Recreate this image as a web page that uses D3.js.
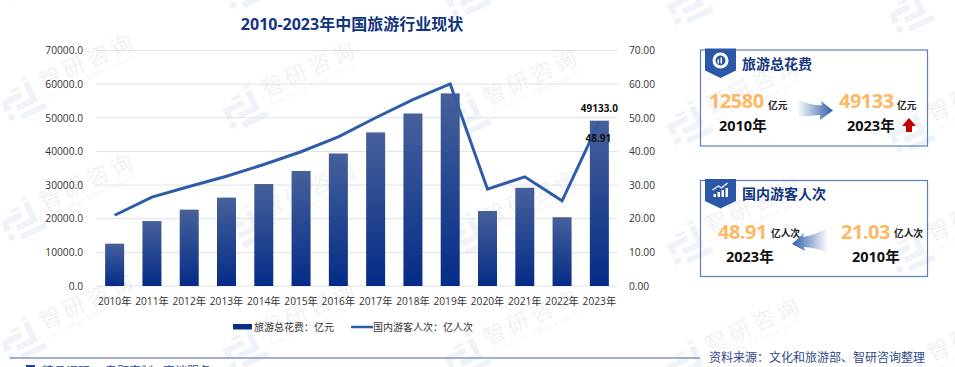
<!DOCTYPE html>
<html>
<head>
<meta charset="utf-8">
<script src="https://cdn.jsdelivr.net/npm/d3@7"></script>
<style>
  html, body { margin: 0; padding: 0; background: #fff; overflow: hidden; }
  text { font-family: "Open Sans", "Noto Sans CJK SC", sans-serif; }
</style>
</head>
<body>
<svg id="chart"></svg>
<script>
const years = ["2010年","2011年","2012年","2013年","2014年","2015年","2016年","2017年","2018年","2019年","2020年","2021年","2022年","2023年"];
const spend = [12580, 19306, 22706, 26276, 30312, 34195, 39390, 45661, 51278, 57251, 22286, 29191, 20444, 49133];
const visits = [21.03, 26.41, 29.57, 32.62, 36.11, 39.90, 44.35, 50.01, 55.39, 60.06, 28.79, 32.46, 25.30, 48.91];
const leftTicks = [0, 10000, 20000, 30000, 40000, 50000, 60000, 70000];
const rightTicks = [0, 10, 20, 30, 40, 50, 60, 70];
const footerWords = [["精品调研", 42], ["专题定制", 105], ["高端服务", 163]];

const width = 955;
const height = 367;
const margin = { top: 50.5, right: 337, bottom: 81, left: 96 };
const navy = "#0b2f86";
const lineBlue = "#2f5ca8";

const svg = d3.select("#chart")
  .attr("width", width)
  .attr("height", height)
  .style("display", "block");

const defs = svg.append("defs");

const barGrad = defs.append("linearGradient")
  .attr("id", "barGrad").attr("x1", 0).attr("y1", 0).attr("x2", 0).attr("y2", 1);
barGrad.append("stop").attr("offset", "0%").attr("stop-color", "#46609a");
barGrad.append("stop").attr("offset", "100%").attr("stop-color", "#042c87");

const arrowRight = defs.append("linearGradient")
  .attr("id", "arrowRight").attr("x1", 0).attr("y1", 0).attr("x2", 1).attr("y2", 0);
arrowRight.append("stop").attr("offset", "0%").attr("stop-color", "#2f5ca8").attr("stop-opacity", 0);
arrowRight.append("stop").attr("offset", "100%").attr("stop-color", "#2f5ca8");

const arrowLeft = defs.append("linearGradient")
  .attr("id", "arrowLeft").attr("x1", 1).attr("y1", 0).attr("x2", 0).attr("y2", 0);
arrowLeft.append("stop").attr("offset", "0%").attr("stop-color", "#2f5ca8").attr("stop-opacity", 0);
arrowLeft.append("stop").attr("offset", "100%").attr("stop-color", "#2f5ca8");

// watermark logos behind everything, on a slanted grid
const wm = svg.append("g").attr("class", "watermark");
d3.range(-1, 3).forEach(r => {
  d3.range(0, 5).forEach(c => {
    const px = 22 + 222 * c;
    const py = 100 + 8 * c + 120 * r;
    const g = wm.append("g").attr("transform", `translate(${px},${py}) rotate(-25)`);
    g.append("path")
      .attr("d", "M-20,-8L2,-8L2,-2L-14,-2L-14,4L-20,4ZM-20,8L-14,8L-14,14L-20,14ZM-8,2L8,2L8,-14L14,-14L14,8L-8,8ZM8,-20L14,-20L14,-17L8,-17ZM-8,-14L2,-14L2,-11L-8,-11ZM-8,12L20,12L20,18L-8,18Z")
      .attr("fill", "#edf3f9");
    if (r < 0) return; // the top row's wording sits above the page
    g.append("text").attr("x", 24).attr("y", 0)
      .attr("font-size", 22).attr("letter-spacing", 4).attr("fill", "#f1f2f5").text("智研咨询");
    g.append("text").attr("x", 26).attr("y", 10)
      .attr("font-size", 5.5).attr("letter-spacing", 0.3).attr("fill", "#f1f2f5").text("INTELLIGENCE RESEARCH GROUP");
  });
});

const x = d3.scaleBand()
  .domain(years)
  .range([margin.left, width - margin.right]);

const yLeft = d3.scaleLinear()
  .domain([0, 70000])
  .range([height - margin.bottom, margin.top]);

const yRight = d3.scaleLinear()
  .domain([0, 70])
  .range([height - margin.bottom, margin.top]);

// gridlines
svg.append("g")
  .selectAll("line")
  .data(leftTicks)
  .enter()
  .append("line")
  .attr("x1", margin.left)
  .attr("x2", width - margin.right)
  .attr("y1", d => yLeft(d))
  .attr("y2", d => yLeft(d))
  .attr("stroke", "#dfe1e5")
  .attr("stroke-width", 1);

const axisLeft = svg.append("g")
  .attr("transform", `translate(${margin.left},0)`)
  .call(d3.axisLeft(yLeft).tickValues(leftTicks).tickSize(0).tickPadding(13).tickFormat(d => d3.format(".1f")(d)));

const axisRight = svg.append("g")
  .attr("transform", `translate(${width - margin.right},0)`)
  .call(d3.axisRight(yRight).tickValues(rightTicks).tickSize(0).tickPadding(11).tickFormat(d => d3.format(".2f")(d)));

const axisBottom = svg.append("g")
  .attr("transform", `translate(0,${height - margin.bottom})`)
  .call(d3.axisBottom(x).tickSize(0).tickPadding(12));

[axisLeft, axisRight, axisBottom].forEach(a => {
  a.select(".domain").remove();
  a.attr("font-family", null);
  a.selectAll("text").attr("font-size", 10.2).attr("fill", "#333");
});

// bars
svg.append("g")
  .selectAll("rect")
  .data(spend)
  .enter()
  .append("rect")
  .attr("x", (d, i) => x(years[i]) + x.bandwidth() / 2 - 9.5)
  .attr("y", d => yLeft(d))
  .attr("width", 19)
  .attr("height", d => yLeft(0) - yLeft(d))
  .attr("fill", "url(#barGrad)");

// line
const lineGen = d3.line()
  .x((d, i) => x(years[i]) + x.bandwidth() / 2)
  .y(d => yRight(d));

svg.append("path")
  .datum(visits)
  .attr("fill", "none")
  .attr("stroke", lineBlue)
  .attr("stroke-width", 3)
  .attr("d", lineGen);

// end labels
const lastX = x(years[13]) + x.bandwidth() / 2;
svg.append("text").attr("x", lastX).attr("y", yLeft(spend[13]) - 9)
  .attr("text-anchor", "middle").attr("font-size", 10).attr("font-weight", 700).attr("fill", "#111")
  .text(d3.format(".1f")(spend[13]));
svg.append("text").attr("x", lastX - 1).attr("y", yRight(visits[13]) + 21)
  .attr("text-anchor", "middle").attr("font-size", 10).attr("font-weight", 700).attr("fill", "#111")
  .text(d3.format(".2f")(visits[13]));

// title
svg.append("text").attr("x", 352).attr("y", 30)
  .attr("text-anchor", "middle").attr("font-size", 16).attr("font-weight", 700).attr("fill", "#14357f")
  .text("2010-2023年中国旅游行业现状");

// legend
svg.append("rect").attr("x", 233).attr("y", 324).attr("width", 19).attr("height", 5.5).attr("fill", navy);
svg.append("text").attr("x", 254).attr("y", 331).attr("font-size", 10).attr("fill", "#333").text("旅游总花费：亿元");
svg.append("line").attr("x1", 351).attr("x2", 373).attr("y1", 327).attr("y2", 327).attr("stroke", lineBlue).attr("stroke-width", 2.5);
svg.append("text").attr("x", 373).attr("y", 331).attr("font-size", 10).attr("fill", "#333").text("国内游客人次：亿人次");

// footer
svg.append("line").attr("x1", 10).attr("x2", 700).attr("y1", 358).attr("y2", 358).attr("stroke", "#8494bd").attr("stroke-width", 1.5);
svg.append("text").attr("x", 709).attr("y", 361.5).attr("font-size", 12).attr("fill", "#2f4a85").text("资料来源：文化和旅游部、智研咨询整理");
svg.append("rect").attr("x", 26).attr("y", 365).attr("width", 9).attr("height", 4).attr("fill", "#1f3f8f");
footerWords.forEach(w => {
  svg.append("text").attr("x", w[1]).attr("y", 375.5).attr("font-size", 12).attr("fill", "#2f4a85").text(w[0]);
});

// side cards
function card(top, h, title, drawIcon) {
  const g = svg.append("g");
  g.append("rect").attr("x", 700.5).attr("y", top).attr("width", 227).attr("height", h)
    .attr("fill", "none").attr("stroke", "#5b7fbd").attr("stroke-width", 1.2);
  g.append("path")
    .attr("d", `M705,${top - 1.5}h31v22l-15.5,7.5l-15.5,-7.5z`)
    .attr("fill", "#2c58a8");
  drawIcon(g, 720.5, top + 10.5);
  g.append("text").attr("x", 742).attr("y", top + 18.5).attr("font-size", 14).attr("font-weight", 700)
    .attr("fill", "#14357f").text(title);
}

function big(tx, ty, s) {
  svg.append("text").attr("x", tx).attr("y", ty).attr("font-size", 20).attr("font-weight", 700)
    .attr("letter-spacing", -0.5).attr("fill", "#fdb765").text(s);
}
function unit(tx, ty, s) {
  svg.append("text").attr("x", tx).attr("y", ty).attr("font-size", 9.7).attr("font-weight", 600)
    .attr("fill", "#222").text(s);
}
function yearLabel(tx, ty, s) {
  svg.append("text").attr("x", tx).attr("y", ty).attr("font-size", 14.5).attr("font-weight", 700)
    .attr("fill", "#111").text(s);
}

card(50, 96, "旅游总花费", (g, cx, cy) => {
  g.append("circle").attr("cx", cx).attr("cy", cy).attr("r", 6.5).attr("fill", "none").attr("stroke", "#fff").attr("stroke-width", 3);
  g.append("rect").attr("x", cx - 3).attr("y", cy - 1).attr("width", 1.5).attr("height", 4).attr("fill", "#fff");
  g.append("rect").attr("x", cx).attr("y", cy - 3).attr("width", 1.5).attr("height", 6).attr("fill", "#fff");
});
card(180.5, 96, "国内游客人次", (g, cx, cy) => {
  [[-7, 3], [-3, 5], [1, 7], [5, 9]].forEach(b => {
    g.append("rect").attr("x", cx + b[0]).attr("y", cy + 6 - b[1]).attr("width", 2.5).attr("height", b[1]).attr("fill", "#fff");
  });
  g.append("path").attr("d", `M${cx - 8},${cy - 1}L${cx - 2},${cy - 5}L${cx + 1},${cy - 3}L${cx + 7},${cy - 8}`)
    .attr("fill", "none").attr("stroke", "#fff").attr("stroke-width", 1.3);
});

// arrows go under the unit text
svg.append("path")
  .attr("d", "M797,99Q810,106 822,105L821,101L833,110.5L820,120L820,115Q808,116 797,117Z")
  .attr("fill", "url(#arrowRight)");
svg.append("path")
  .attr("d", "M828,228Q815,235 803,237L804,233L792,244L805,251L804,247Q818,248 828,253Z")
  .attr("fill", "url(#arrowLeft)");
svg.append("path")
  .attr("d", "M909,118l7,8h-4v6h-6v-6h-4z")
  .attr("fill", "#c00000");

big(709, 108, "12580");
unit(768, 109, "亿元");
yearLabel(719, 131, "2010年");
big(839, 108, "49133");
unit(897, 109, "亿元");
yearLabel(847, 131, "2023年");

big(718, 238.5, "48.91");
unit(771, 237, "亿人次");
yearLabel(726, 262, "2023年");
big(841, 238.5, "21.03");
unit(894, 237, "亿人次");
yearLabel(852, 262, "2010年");
</script>
</body>
</html>
